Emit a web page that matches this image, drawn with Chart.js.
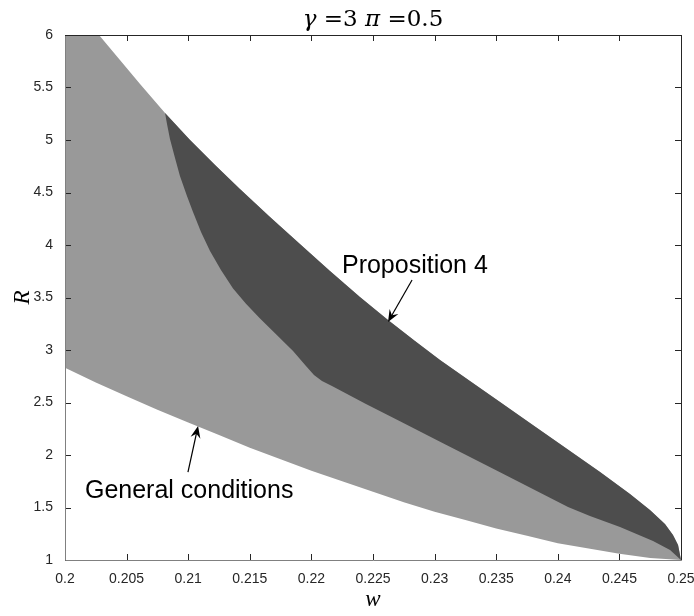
<!DOCTYPE html>
<html><head><meta charset="utf-8">
<script src="https://cdn.jsdelivr.net/npm/chart.js@4.4.1/dist/chart.umd.min.js"></script>
<style>html,body{margin:0;padding:0;background:#fff}canvas{display:block}</style>
</head><body>
<canvas id="c" width="694" height="616"></canvas>
<script>
// Upper boundary of the "General conditions" region (also top edge of Proposition 4 region)
const upperW = [0.2, 0.20276, 0.20446, 0.20609, 0.20812, 0.21015, 0.21218, 0.2142, 0.21664, 0.21907, 0.22151, 0.22394, 0.22622, 0.22841, 0.23044, 0.23287, 0.23531, 0.23774, 0.24018, 0.24343, 0.24586, 0.24748, 0.2487, 0.24935, 0.24976, 0.25];
const upperR = [6.0, 6.0, 5.762, 5.533, 5.257, 5.0, 4.762, 4.533, 4.267, 4.01, 3.752, 3.505, 3.286, 3.086, 2.905, 2.705, 2.505, 2.305, 2.105, 1.838, 1.629, 1.476, 1.343, 1.238, 1.143, 1.0];
// Lower boundary of the "General conditions" region
const lowerW = [0.2, 0.2025, 0.205, 0.2075, 0.21, 0.2125, 0.215, 0.2175, 0.22, 0.2225, 0.225, 0.2275, 0.23, 0.2325, 0.235, 0.2375, 0.24, 0.2425, 0.245, 0.2475, 0.25];
const lowerR = [2.83, 2.69, 2.56, 2.43, 2.31, 2.19, 2.07, 1.96, 1.85, 1.75, 1.65, 1.55, 1.46, 1.38, 1.30, 1.23, 1.16, 1.11, 1.06, 1.02, 1.0];
// Lower-left boundary of the "Proposition 4" region
const prop4W = [0.20812, 0.20828, 0.20852, 0.20893, 0.20933, 0.2099, 0.21039, 0.21104, 0.21177, 0.21266, 0.21364, 0.21469, 0.21583, 0.21713, 0.21851, 0.21956, 0.22021, 0.22086, 0.22167, 0.22435, 0.22719, 0.23084, 0.23531, 0.24083, 0.24261, 0.24505, 0.24773, 0.24911, 0.25];
const prop4R = [5.257, 5.152, 5.01, 4.829, 4.657, 4.467, 4.314, 4.124, 3.943, 3.762, 3.585, 3.44, 3.3, 3.15, 2.99, 2.848, 2.762, 2.705, 2.657, 2.49, 2.321, 2.102, 1.835, 1.505, 1.419, 1.314, 1.181, 1.095, 1.0];

const xTicks = [0.2, 0.205, 0.21, 0.215, 0.22, 0.225, 0.23, 0.235, 0.24, 0.245, 0.25];
const xTickLabels = ['0.2', '0.205', '0.21', '0.215', '0.22', '0.225', '0.23', '0.235', '0.24', '0.245', '0.25'];
const yTicks = [1, 1.5, 2, 2.5, 3, 3.5, 4, 4.5, 5, 5.5, 6];
const yTickLabels = ['1', '1.5', '2', '2.5', '3', '3.5', '4', '4.5', '5', '5.5', '6'];

const titleParts = [['γ', true], [' =3 ', false], ['π', true], [' =0.5', false]];
const xTitle = 'w', yTitle = 'R';
const annotations = [
  {text: 'Proposition 4', w: 0.22248, r: 3.733, tipW: 0.22622, tipR: 3.267, tailW: 0.22817, tailR: 3.667},
  {text: 'General conditions', w: 0.20162, r: 1.59, tipW: 0.2108, tipR: 2.276, tailW: 0.20998, tailR: 1.838}
];

const pts = (ws, rs) => ws.map((w, i) => ({x: w, y: rs[i]}));
const GRAY = '#999999', DARK = '#4d4d4d', AX = '#262626';

function arrow(ctx, x1, y1, x2, y2) {
  const a = Math.atan2(y2 - y1, x2 - x1), L = 12, H = 5;
  ctx.beginPath(); ctx.moveTo(x1, y1); ctx.lineTo(x2 - Math.cos(a) * 6, y2 - Math.sin(a) * 6); ctx.stroke();
  ctx.save(); ctx.translate(x2, y2); ctx.rotate(a);
  ctx.beginPath(); ctx.moveTo(0, 0); ctx.lineTo(-L, -H); ctx.lineTo(-L * 0.65, 0); ctx.lineTo(-L, H); ctx.closePath(); ctx.fill();
  ctx.restore();
}

const decor = {
  id: 'decor',
  afterDraw(chart) {
    const {ctx, chartArea: a, scales: {x, y}} = chart;
    ctx.save();
    const tl = 6;
    ctx.lineWidth = 1;
    ctx.strokeStyle = AX;
    ctx.beginPath();
    xTicks.forEach(v => {
      const px = Math.round(x.getPixelForValue(v)) + 0.5;
      ctx.moveTo(px, a.bottom); ctx.lineTo(px, a.bottom - tl);
      ctx.moveTo(px, a.top); ctx.lineTo(px, a.top + tl);
    });
    yTicks.forEach(v => {
      const py = Math.round(y.getPixelForValue(v)) + 0.5;
      ctx.moveTo(a.left, py); ctx.lineTo(a.left + tl, py);
      ctx.moveTo(a.right, py); ctx.lineTo(a.right - tl, py);
    });
    ctx.stroke();
    // box: left/bottom grey, top/right dark
    ctx.strokeStyle = '#808080';
    ctx.beginPath();
    ctx.moveTo(a.left + 0.5, a.top); ctx.lineTo(a.left + 0.5, a.bottom + 0.5);
    ctx.lineTo(a.right, a.bottom + 0.5);
    ctx.stroke();
    ctx.strokeStyle = AX;
    ctx.beginPath();
    ctx.moveTo(a.left, a.top + 0.5); ctx.lineTo(a.right + 0.5, a.top + 0.5); ctx.lineTo(a.right + 0.5, a.bottom + 0.5);
    ctx.stroke();

    // title
    ctx.fillStyle = '#000';
    ctx.textBaseline = 'alphabetic';
    const tf = it => (it ? 'italic ' : '') + '23px "DejaVu Serif", serif';
    let tw = 0;
    titleParts.forEach(([t, it]) => { ctx.font = tf(it); tw += ctx.measureText(t).width; });
    let tx = (a.left + a.right) / 2 - tw / 2;
    titleParts.forEach(([t, it]) => { ctx.font = tf(it); ctx.fillText(t, tx, 26); tx += ctx.measureText(t).width; });

    // axis titles
    ctx.font = 'italic 23px "Liberation Serif", serif';
    ctx.textAlign = 'center';
    ctx.fillText(xTitle, (a.left + a.right) / 2, 606);
    ctx.save();
    ctx.translate(29, (a.top + a.bottom) / 2);
    ctx.rotate(-Math.PI / 2);
    ctx.fillText(yTitle, 0, 0);
    ctx.restore();

    // annotations
    ctx.textAlign = 'left';
    ctx.font = '25px "Liberation Sans", Arial, sans-serif';
    ctx.lineWidth = 1.2;
    ctx.strokeStyle = '#000';
    annotations.forEach(an => {
      ctx.fillText(an.text, x.getPixelForValue(an.w), y.getPixelForValue(an.r));
      arrow(ctx, x.getPixelForValue(an.tailW), y.getPixelForValue(an.tailR), x.getPixelForValue(an.tipW), y.getPixelForValue(an.tipR));
    });
    ctx.restore();
  }
};

new Chart(document.getElementById('c'), {
  type: 'line',
  data: {
    datasets: [
      {data: pts(prop4W, prop4R), fill: {target: 1}, backgroundColor: DARK, borderColor: 'transparent', borderWidth: 0, pointRadius: 0, tension: 0},
      {data: pts(upperW, upperR), fill: {target: 2}, backgroundColor: GRAY, borderColor: 'transparent', borderWidth: 0, pointRadius: 0, tension: 0},
      {data: pts(lowerW, lowerR), fill: false, borderColor: 'transparent', borderWidth: 0, pointRadius: 0, tension: 0}
    ]
  },
  options: {
    responsive: false, animation: false, devicePixelRatio: 1,
    layout: {padding: {top: 35, right: 13, left: 0, bottom: 0}},
    plugins: {legend: {display: false}, tooltip: {enabled: false}, title: {display: false}},
    scales: {
      x: {
        type: 'linear', min: 0.2, max: 0.25,
        afterBuildTicks: s => { s.ticks = xTicks.map(v => ({value: v})); },
        afterFit: s => { s.height = 56; s.paddingLeft = 0; s.paddingRight = 0; },
        grid: {display: false, drawTicks: false}, border: {display: false},
        ticks: {callback: (v, i) => xTickLabels[i], color: AX, font: {family: '"Liberation Sans", Arial, sans-serif', size: 14}, padding: 11, maxRotation: 0, autoSkip: false}
      },
      y: {
        type: 'linear', min: 1, max: 6,
        afterBuildTicks: s => { s.ticks = yTicks.map(v => ({value: v})); },
        afterFit: s => { s.width = 65; s.paddingTop = 0; s.paddingBottom = 0; },
        grid: {display: false, drawTicks: false}, border: {display: false},
        ticks: {callback: (v, i) => yTickLabels[i], color: AX, font: {family: '"Liberation Sans", Arial, sans-serif', size: 14}, padding: 12, autoSkip: false}
      }
    }
  },
  plugins: [decor]
});
</script>
</body></html>
